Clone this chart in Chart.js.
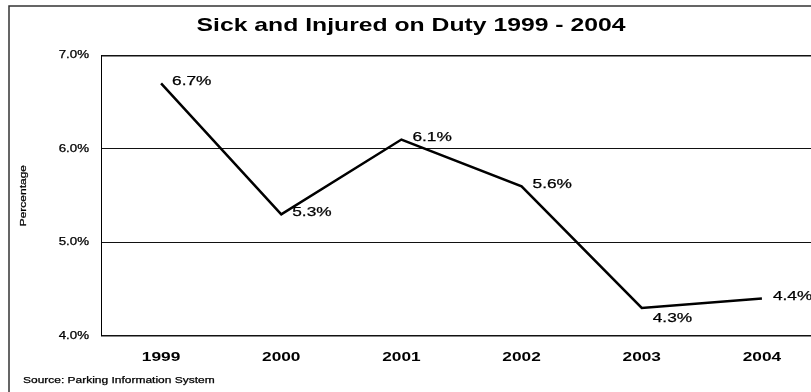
<!DOCTYPE html>
<html>
<head>
<meta charset="utf-8">
<script src="https://cdn.jsdelivr.net/npm/chart.js@4/dist/chart.umd.min.js"></script>
<style>
  html, body { margin: 0; padding: 0; background: #fff; overflow: hidden; }
  #wrap { width: 832px; height: 392px; }
</style>
</head>
<body>
<div id="wrap"><canvas id="chart" width="832" height="392"></canvas></div>
<script>
const years = ['1999', '2000', '2001', '2002', '2003', '2004'];
const sickRate = [6.7, 5.3, 6.1, 5.6, 4.3, 4.4];
const yTicks = [4, 5, 6, 7];

const FONT = '"Liberation Sans", Arial, sans-serif';
// the printed report uses a wide face; stretch glyphs horizontally
const STRETCH = 1.33;

const ctx = document.getElementById('chart').getContext('2d');
const plainFillText = ctx.fillText.bind(ctx);
const plainStrokeText = ctx.strokeText.bind(ctx);
ctx.fillText = function (text, x, y, maxWidth) {
  this.save();
  this.translate(x, y);
  this.scale(STRETCH, 1);
  if (maxWidth === undefined || maxWidth === null) plainFillText(text, 0, 0);
  else plainFillText(text, 0, 0, maxWidth / STRETCH);
  // thicken regular-weight text a touch
  if (!/^bold/.test(this.font)) {
    this.strokeStyle = this.fillStyle;
    this.lineWidth = 0.25;
    plainStrokeText(text, 0, 0);
  }
  this.restore();
};

const pageFrame = {
  id: 'pageFrame',
  beforeDraw(chart) {
    const c = chart.ctx;
    c.save();
    c.fillStyle = '#fff';
    c.fillRect(0, 0, chart.width, chart.height);
    c.strokeStyle = '#333';
    c.lineWidth = 1.5;
    c.strokeRect(9, 6, chart.width + 20, chart.height + 20);
    c.restore();
  },
  afterDraw(chart) {
    const c = chart.ctx;
    c.save();
    c.fillStyle = '#000';
    c.font = `9px ${FONT}`;
    c.textAlign = 'left';
    c.textBaseline = 'middle';
    c.fillText('Source: Parking Information System', 23, 381);
    c.restore();
  }
};

const valueLabels = {
  id: 'valueLabels',
  afterDatasetsDraw(chart, args, opts) {
    const meta = chart.getDatasetMeta(0);
    const values = chart.data.datasets[0].data;
    const c = chart.ctx;
    c.save();
    c.fillStyle = '#000';
    c.font = `13px ${FONT}`;
    c.textAlign = 'left';
    c.textBaseline = 'middle';
    meta.data.forEach((pt, i) => {
      const dy = opts.below.includes(i) ? 10 : -2;
      c.fillText(values[i].toFixed(1) + '%', pt.x + 11, pt.y + dy);
    });
    c.restore();
  }
};

new Chart(ctx, {
  type: 'line',
  data: {
    labels: years,
    datasets: [{
      data: sickRate,
      borderColor: '#000',
      borderWidth: 2.5,
      pointRadius: 0,
      tension: 0,
      fill: false
    }]
  },
  plugins: [pageFrame, valueLabels],
  options: {
    responsive: false,
    animation: false,
    events: [],
    layout: { padding: { left: 0, right: 10, top: 0, bottom: 0 } },
    plugins: {
      legend: { display: false },
      tooltip: { enabled: false },
      title: {
        display: true,
        text: 'Sick and Injured on Duty 1999 - 2004',
        color: '#000',
        font: { family: FONT, size: 18.6, weight: 'bold' },
        padding: { top: 15, bottom: 18 }
      },
      valueLabels: { below: [4] }
    },
    scales: {
      x: {
        offset: true,
        grid: { display: false, drawTicks: false },
        border: { display: false },
        ticks: {
          color: '#000',
          font: { family: FONT, size: 13, weight: 'bold' },
          padding: 14,
          maxRotation: 0
        },
        afterFit(scale) { scale.height = 56; }
      },
      y: {
        min: 4,
        max: 7,
        afterBuildTicks(scale) { scale.ticks = yTicks.map((v) => ({ value: v })); },
        grid: {
          color: '#111',
          drawTicks: false,
          lineWidth: (c) => (c.tick && (c.tick.value === 4 || c.tick.value === 7) ? 1.5 : 1)
        },
        border: { display: true, color: '#000', width: 1 },
        ticks: {
          color: '#000',
          font: { family: FONT, size: 10 },
          padding: 12,
          callback: (v) => Number(v).toFixed(1) + '%'
        },
        title: {
          display: true,
          text: 'Percentage',
          color: '#000',
          font: { family: FONT, size: 9 },
          padding: { top: 18, bottom: 0 }
        },
        afterFit(scale) { scale.width = 101; }
      }
    }
  }
});
</script>
</body>
</html>
